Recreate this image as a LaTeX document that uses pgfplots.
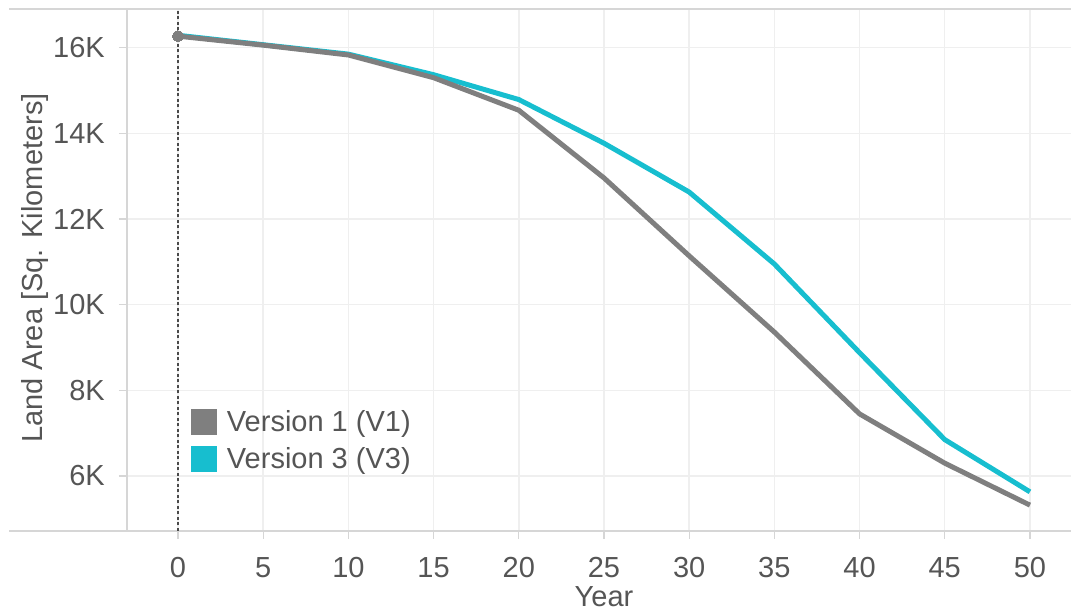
\documentclass[border=0pt]{standalone}
\usepackage{fontspec}
\setmainfont{Liberation Sans}
\usepackage{pgfplots}
\pgfplotsset{compat=1.18}
\definecolor{cgray}{HTML}{7F7F7F}
\definecolor{ccyan}{HTML}{17BECF}
\definecolor{ctext}{HTML}{555555}
\definecolor{cgrid}{HTML}{EFEFEF}
\definecolor{caxis}{HTML}{D6D6D6}
\definecolor{cref}{HTML}{4A4A4A}
\begin{document}
\begin{tikzpicture}[x=1pt,y=1pt]
\useasboundingbox (0,0) rectangle (1071,613);
\begin{axis}[
  at={(127pt,82pt)}, anchor=south west,
  scale only axis, width=944pt, height=522pt,
  xmin=-2.993, xmax=52.41, ymin=4.716, ymax=16.904,
  xtick={0,5,...,50}, ytick={6,8,...,16},
  xticklabels={0,5,10,15,20,25,30,35,40,45,50},
  yticklabels={6K,8K,10K,12K,14K,16K},
  axis lines*=left,
  axis line style={draw=caxis, line width=1.5pt},
  tick align=outside, major tick length=8pt,
  tick style={draw=caxis, line width=1.2pt},
  grid=major, major grid style={draw=cgrid, line width=1.5pt},
  every tick label/.append style={font=\fontsize{29}{34}\selectfont, text=ctext},
  xticklabel style={anchor=base, inner sep=0pt, yshift=-39pt},
  yticklabel style={anchor=east, inner sep=0pt, xshift=-14pt},
  legend style={at={(axis description cs:0.0678,0.2337)}, anchor=north west,
    draw=none, fill=none, inner sep=0pt, outer sep=0pt,
    font=\fontsize{29}{34}\selectfont, text=ctext,
    nodes={inner sep=0pt}, row sep=11.5pt, column sep=10pt},
  legend cell align=left,
  legend image code/.code={\fill[#1, draw=none] (0pt,-12.75pt) rectangle (26pt,12.75pt);},
  reverse legend,
]
\addplot[cref, line width=1.3pt, dash pattern=on 3pt off 2.5pt, forget plot] coordinates {(0,4.716) (0,16.904)};
\addplot[color=ccyan, line width=5pt, line join=round] coordinates {
(0,16.29) (5,16.07) (10,15.85) (15,15.37) (20,14.79) (25,13.77) (30,12.63) (35,10.95) (40,8.88) (45,6.85) (50,5.63)};
\addlegendentry{Version 3 (V3)}
\addplot[color=cgray, line width=5pt, line join=round, mark=*, mark indices={1}, mark size=5.5pt, mark options={line width=0pt}] coordinates {
(0,16.27) (5,16.06) (10,15.83) (15,15.30) (20,14.54) (25,12.96) (30,11.14) (35,9.36) (40,7.45) (45,6.30) (50,5.32)};
\addlegendentry{Version 1 (V1)}
\end{axis}
\draw[caxis, line width=1.5pt] (9,82) -- (127,82);
\draw[caxis, line width=1.5pt] (9,604) -- (1071,604);
\node[rotate=90, anchor=base, text=ctext, font=\fontsize{29}{34}\selectfont] at (42,345) {Land Area [Sq. Kilometers]};
\node[anchor=base, text=ctext, font=\fontsize{29}{34}\selectfont] at (604,6) {Year};
\end{tikzpicture}
\end{document}
